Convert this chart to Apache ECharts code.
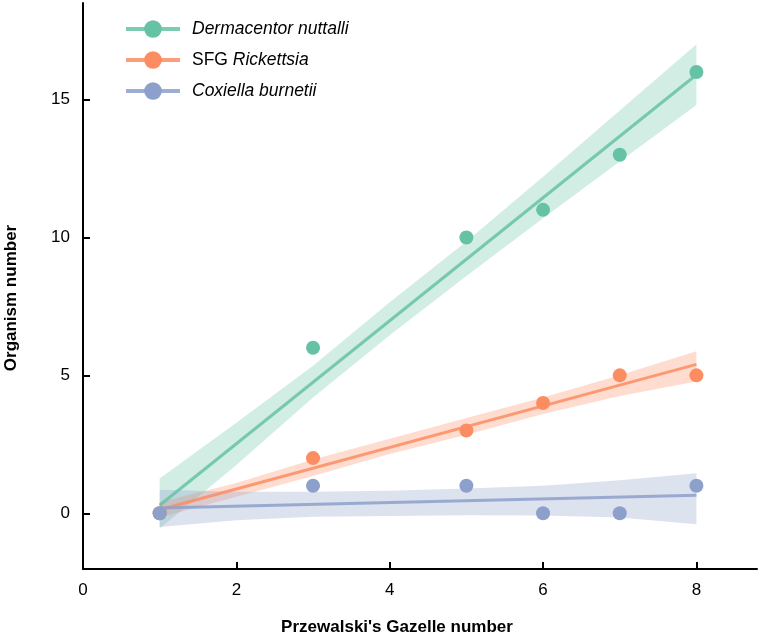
<!DOCTYPE html>
<html>
<head>
<meta charset="utf-8">
<script src="https://cdn.jsdelivr.net/npm/echarts@6/dist/echarts.min.js"></script>
<style>
html,body{margin:0;padding:0;background:#fff;}
#c{width:761px;height:635px;}
</style>
</head>
<body>
<div id="c"></div>
<script>
// ---- data ----
const seriesNames = ['Dermacentor nuttalli', 'SFG Rickettsia', 'Coxiella burnetii'];
const pointX = [1, 3, 5, 6, 7, 8];
const dermacentorY = [0, 6, 10, 11, 13, 16];
const rickettsiaY = [0, 2, 3, 4, 5, 5];
const coxiellaY = [0, 1, 1, 0, 0, 1];

// fitted regression lines (endpoints)
const fitX = [1, 8];
const dermacentorFit = [0.29, 15.9];
const rickettsiaFit = [0.13, 5.4];
const coxiellaFit = [0.19, 0.65];

// confidence bands
const bandX = [1, 2, 3, 4, 5, 6, 7, 8];
const dermacentorLower = [-0.55, 1.75, 4.2, 6.45, 8.6, 10.7, 12.75, 14.8];
const dermacentorUpper = [1.26, 3.28, 5.35, 7.65, 9.85, 12.2, 14.6, 17.0];
const rickettsiaLower = [-0.15, 0.6, 1.35, 2.15, 2.85, 3.6, 4.25, 4.78];
const rickettsiaUpper = [0.4, 1.1, 1.95, 2.7, 3.45, 4.2, 5.0, 5.87];
const coxiellaLower = [-0.5, -0.25, -0.13, -0.1, -0.07, -0.08, -0.15, -0.4];
const coxiellaUpper = [0.85, 0.78, 0.78, 0.82, 0.9, 1.0, 1.2, 1.45];

const xTicks = [0, 2, 4, 6, 8];
const yTicks = [0, 5, 10, 15];
const xTitle = "Przewalski's Gazelle number";
const yTitle = 'Organism number';

// ---- styling ----
const pointColors = ['#66c2a5', '#fc8d62', '#8da0cb'];
const lineColors = ['rgba(102,194,165,0.85)', 'rgba(252,141,98,0.85)', 'rgba(141,160,203,0.85)'];
const bandColors = ['rgba(102,194,165,0.3)', 'rgba(252,141,98,0.3)', 'rgba(141,160,203,0.3)'];

const groups = [
  {ys: dermacentorY, fit: dermacentorFit, lo: dermacentorLower, hi: dermacentorUpper},
  {ys: rickettsiaY, fit: rickettsiaFit, lo: rickettsiaLower, hi: rickettsiaUpper},
  {ys: coxiellaY, fit: coxiellaFit, lo: coxiellaLower, hi: coxiellaUpper}
];

const series = [];
groups.forEach((g, gi) => {
  const bandData = bandX.map((x, i) => [x, g.lo[i], g.hi[i]]);
  series.push({
    type: 'custom',
    name: 'band' + gi,
    z: 1,
    silent: true,
    clip: true,
    data: bandData,
    encode: {x: 0, y: [1, 2]},
    renderItem: function (params, api) {
      if (params.dataIndex !== 0) return null;
      const top = [], bot = [];
      for (let i = 0; i < bandData.length; i++) {
        top.push(api.coord([bandData[i][0], bandData[i][2]]));
        bot.push(api.coord([bandData[i][0], bandData[i][1]]));
      }
      const pts = top.concat(bot.reverse());
      return {type: 'polygon', shape: {points: pts}, style: {fill: bandColors[gi], stroke: null}};
    }
  });
});
groups.forEach((g, gi) => {
  series.push({
    type: 'line',
    name: seriesNames[gi],
    z: 3,
    data: fitX.map((x, i) => [x, g.fit[i]]),
    symbol: 'circle',
    showSymbol: false,
    symbolSize: 14,
    itemStyle: {color: pointColors[gi]},
    lineStyle: {color: lineColors[gi], width: 3},
    emphasis: {disabled: true},
    silent: true
  });
});
groups.forEach((g, gi) => {
  series.push({
    type: 'scatter',
    name: 'pts' + gi,
    z: 5,
    symbol: 'circle',
    symbolSize: 14,
    itemStyle: {color: pointColors[gi], opacity: 1},
    data: pointX.map((x, i) => [x, g.ys[i]])
  });
});

const chart = echarts.init(document.getElementById('c'), null, {renderer: 'canvas'});
const axisFont = 'Liberation Sans, Arial, sans-serif';
chart.setOption({
  animation: false,
  backgroundColor: '#fff',
  grid: {left: 83, right: 4, top: 3, bottom: 66, containLabel: false},
  legend: {
    orient: 'vertical',
    left: 119,
    top: 15,
    itemWidth: 54,
    itemHeight: 22,
    itemGap: 13,
    data: seriesNames,
    lineStyle: {width: 4},
    selectedMode: false,
    textStyle: {
      fontFamily: axisFont,
      fontSize: 17.5,
      color: '#000',
      padding: [0, 0, 0, 7],
      rich: {
        i: {fontStyle: 'italic', fontFamily: axisFont, fontSize: 17.5, color: '#000'},
        n: {fontFamily: axisFont, fontSize: 17.5, color: '#000'}
      }
    },
    formatter: function (name) {
      if (name.indexOf('SFG ') === 0) return '{n|SFG }{i|' + name.slice(4) + '}';
      return '{i|' + name + '}';
    }
  },
  xAxis: {
    type: 'value',
    min: 0,
    max: 8.79,
    splitLine: {show: false},
    axisLine: {show: true, onZero: false, lineStyle: {color: '#000', width: 2}},
    axisTick: {show: true, inside: true, length: 7, lineStyle: {color: '#000', width: 2}, customValues: xTicks.filter(v => v !== 0)},
    axisLabel: {customValues: xTicks, color: '#000', fontSize: 17, fontFamily: axisFont, margin: 13}
  },
  yAxis: {
    type: 'value',
    min: -2.02,
    max: 18.5,
    splitLine: {show: false},
    axisLine: {show: true, onZero: false, lineStyle: {color: '#000', width: 2}},
    axisTick: {show: true, inside: true, length: 7, lineStyle: {color: '#000', width: 2}, customValues: yTicks},
    axisLabel: {customValues: yTicks, color: '#000', fontSize: 17, fontFamily: axisFont, margin: 13}
  },
  graphic: [
    {type: 'text', x: 397, y: 627, style: {text: xTitle, font: 'bold 17px ' + axisFont, fill: '#000', textAlign: 'center', textVerticalAlign: 'middle'}},
    {type: 'text', x: 11, y: 298, rotation: Math.PI / 2, style: {text: yTitle, font: 'bold 17px ' + axisFont, fill: '#000', textAlign: 'center', textVerticalAlign: 'middle'}}
  ],
  series: series
});
</script>
</body>
</html>
